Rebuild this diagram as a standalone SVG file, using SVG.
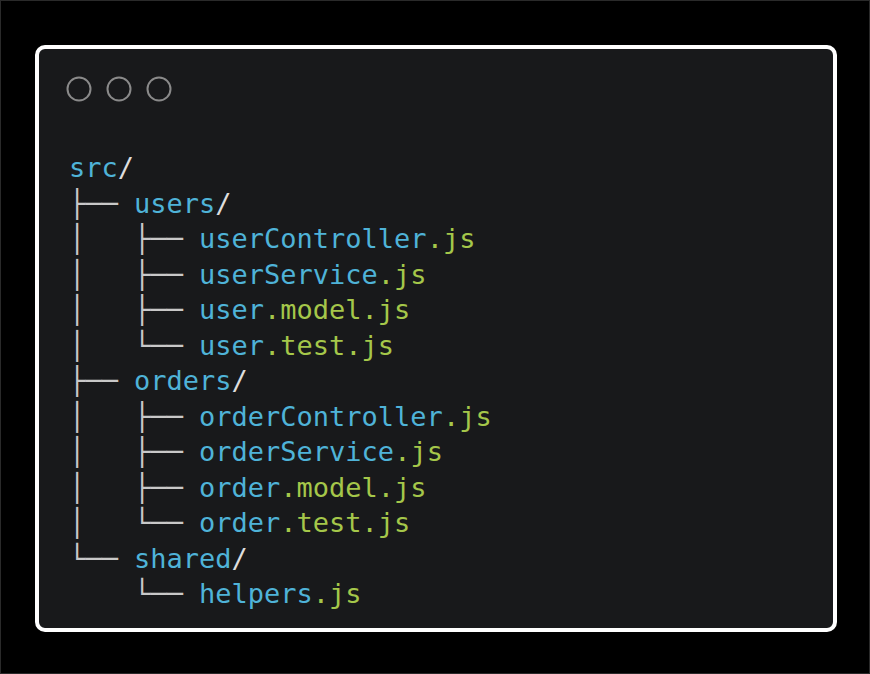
<svg xmlns="http://www.w3.org/2000/svg" width="870" height="674" viewBox="0 0 870 674">
<style>
.t{font-family:"DejaVu Sans Mono","Liberation Mono",monospace;font-size:27px;white-space:pre}
.tr{fill:#c8c8c8}
.b{fill:#4fb3d8}
.g{fill:#a5c74a}
.s{fill:#dddddd}
.dot{fill:none;stroke:#8a8a8a;stroke-width:2}
</style>
<rect x="0" y="0" width="870" height="674" fill="#000"/>
<rect x="0.5" y="0.5" width="869" height="673" fill="none" stroke="#2a2a2a" stroke-width="1"/>
<g id="window">
<rect x="37" y="47" width="798" height="583" rx="8" fill="#18191b" stroke="#ffffff" stroke-width="4"/>
<circle class="dot" cx="79" cy="89" r="11.5"/>
<circle class="dot" cx="119" cy="89" r="11.5"/>
<circle class="dot" cx="159" cy="89" r="11.5"/>
</g>
<g id="tree">
<text class="t" x="69" y="177" xml:space="preserve"><tspan class="b">src</tspan><tspan class="s">/</tspan></text>
<text class="t" x="69" y="212.5" xml:space="preserve"><tspan class="tr">├── </tspan><tspan class="b">users</tspan><tspan class="s">/</tspan></text>
<text class="t" x="69" y="248" xml:space="preserve"><tspan class="tr">│   ├── </tspan><tspan class="b">userController</tspan><tspan class="g">.js</tspan></text>
<text class="t" x="69" y="283.5" xml:space="preserve"><tspan class="tr">│   ├── </tspan><tspan class="b">userService</tspan><tspan class="g">.js</tspan></text>
<text class="t" x="69" y="319" xml:space="preserve"><tspan class="tr">│   ├── </tspan><tspan class="b">user</tspan><tspan class="g">.model.js</tspan></text>
<text class="t" x="69" y="354.5" xml:space="preserve"><tspan class="tr">│   └── </tspan><tspan class="b">user</tspan><tspan class="g">.test.js</tspan></text>
<text class="t" x="69" y="390" xml:space="preserve"><tspan class="tr">├── </tspan><tspan class="b">orders</tspan><tspan class="s">/</tspan></text>
<text class="t" x="69" y="425.5" xml:space="preserve"><tspan class="tr">│   ├── </tspan><tspan class="b">orderController</tspan><tspan class="g">.js</tspan></text>
<text class="t" x="69" y="461" xml:space="preserve"><tspan class="tr">│   ├── </tspan><tspan class="b">orderService</tspan><tspan class="g">.js</tspan></text>
<text class="t" x="69" y="496.5" xml:space="preserve"><tspan class="tr">│   ├── </tspan><tspan class="b">order</tspan><tspan class="g">.model.js</tspan></text>
<text class="t" x="69" y="532" xml:space="preserve"><tspan class="tr">│   └── </tspan><tspan class="b">order</tspan><tspan class="g">.test.js</tspan></text>
<text class="t" x="69" y="567.5" xml:space="preserve"><tspan class="tr">└── </tspan><tspan class="b">shared</tspan><tspan class="s">/</tspan></text>
<text class="t" x="69" y="603" xml:space="preserve"><tspan class="tr">    └── </tspan><tspan class="b">helpers</tspan><tspan class="g">.js</tspan></text>
</g>
</svg>
